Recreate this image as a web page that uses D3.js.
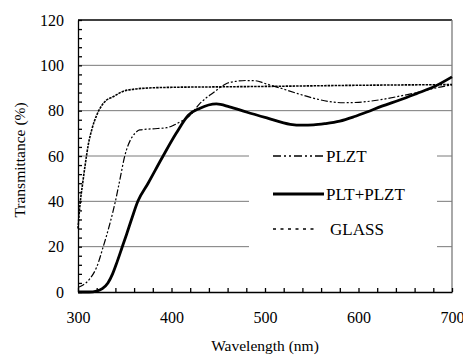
<!DOCTYPE html>
<html>
<head>
<meta charset="utf-8">
<script src="https://cdn.jsdelivr.net/npm/d3@7"></script>
<style>
  body { margin: 0; background: #fff; }
  text { font-family: "Liberation Serif", "Times New Roman", serif; }
</style>
</head>
<body>
<div id="chart"></div>
<script>
// transmittance spectra, values

// GLASS (dotted)
let glassNm = [300, 302, 305, 308, 311, 315, 320, 325, 330, 337, 348, 360, 375, 400, 450, 500, 600, 700]
let glassT = [28, 38, 48, 57, 65, 72, 78, 82, 84.5, 86, 88.5, 89.5, 90, 90.3, 90.5, 90.7, 91.2, 91.5]

// PLZT (dash-dot)
let plztNm = [300, 305, 313, 320, 327, 334, 340, 345, 350, 356, 361, 366, 380, 395, 402, 409, 420, 430, 445, 459,
    470, 480, 490, 500, 516, 535, 551, 569, 584, 600, 626, 645, 663, 680, 700]
let plztT = [2, 3, 6, 11, 20, 30, 40, 50, 60, 67, 70, 71.5, 72, 72.5, 73.5, 75, 78, 83, 88, 92,
    93, 93.3, 93.2, 92, 90, 87.5, 85.6, 84, 83.5, 83.7, 85, 86.5, 88, 89.8, 91.4]

// PLT+PLZT (thick solid)
let pltNm = [300, 312, 320, 326, 332, 337, 342, 347, 352, 358, 364, 375, 391, 405, 418, 430, 448, 462, 480, 502,
    527, 540, 552, 565, 580, 595, 609, 625, 644, 662, 680, 700]
let pltT = [0, 0, 0.4, 1.5, 4, 8, 13.5, 19.5, 25.5, 33, 40, 48, 60, 70, 78, 81, 83, 81.7, 79.4, 76.8,
    74, 73.6, 73.7, 74.3, 75.4, 77.3, 79.4, 82, 84.7, 87.5, 90.4, 94.9]

let xTicks = [300, 400, 500, 600, 700]
let yTicks = [0, 20, 40, 60, 80, 100, 120]
let legendNames = ["PLZT", "PLT+PLZT", "GLASS"]

let width = 463, height = 356
let plotLeft = 78, plotRight = 452, plotTop = 20, plotBottom = 292

let svg = d3.select("#chart")
    .append("svg")
    .attr("width", width)
    .attr("height", height)

let xScale = d3.scaleLinear().domain([300, 700]).range([plotLeft, plotRight])
let yScale = d3.scaleLinear().domain([0, 120]).range([plotBottom, plotTop])

// grid lines
svg.append("g")
    .selectAll("line")
    .data(yTicks.filter(d => d > 0 && d < 120)).enter()
    .append("line")
    .attr("x1", plotLeft).attr("x2", plotRight)
    .attr("y1", d => yScale(d)).attr("y2", d => yScale(d))
    .attr("stroke", "#7a7a7a")
    .attr("stroke-width", 1)

// top and right frame
svg.append("line")
    .attr("x1", plotLeft).attr("x2", plotRight)
    .attr("y1", plotTop).attr("y2", plotTop)
    .attr("stroke", "#000").attr("stroke-width", 1.3)
svg.append("line")
    .attr("x1", plotRight).attr("x2", plotRight)
    .attr("y1", plotTop).attr("y2", plotBottom)
    .attr("stroke", "#7a7a7a").attr("stroke-width", 1.3)

// legend background hides the grid lines behind it
svg.append("rect")
    .attr("x", 249).attr("y", 136)
    .attr("width", 188).attr("height", 116)
    .attr("fill", "#fff")

// axes with inside minor ticks
let xAxis = d3.axisBottom(xScale)
    .tickValues(d3.range(300, 701, 20))
    .tickSizeInner(-4).tickSizeOuter(0)
    .tickPadding(20)
    .tickFormat(d => xTicks.includes(d) ? d : "")

let yAxis = d3.axisLeft(yScale)
    .tickValues(d3.range(0, 121, 4))
    .tickSizeInner(-4).tickSizeOuter(0)
    .tickPadding(14)
    .tickFormat(d => yTicks.includes(d) ? d : "")

svg.append("g")
    .attr("transform", `translate(0,${plotBottom})`)
    .call(xAxis)
    .call(g => g.selectAll("text").style("font-size", "16px").attr("fill", "#000"))
    .call(g => g.selectAll("path,line").attr("stroke", "#000").attr("stroke-width", 1.3))

svg.append("g")
    .attr("transform", `translate(${plotLeft},0)`)
    .call(yAxis)
    .call(g => g.selectAll("text").style("font-size", "16px").attr("fill", "#000"))
    .call(g => g.selectAll("path,line").attr("stroke", "#000").attr("stroke-width", 1.3))

// axis titles
svg.append("text")
    .attr("x", 265).attr("y", 351)
    .attr("text-anchor", "middle")
    .style("font-size", "15.5px")
    .text("Wavelength (nm)")

svg.append("text")
    .attr("transform", "translate(25,160) rotate(-90)")
    .attr("text-anchor", "middle")
    .style("font-size", "15.5px")
    .text("Transmittance (%)")

// curves
let line = d3.line()
    .x(d => xScale(d[0]))
    .y(d => yScale(d[1]))
    .curve(d3.curveMonotoneX)

let styles = [
    { dash: "7,2,2,2,2,2", w: 1.2 },
    { dash: null, w: 2.8 },
    { dash: "2.5,1", w: 1.6 }
]

let series = [
    d3.zip(plztNm, plztT),
    d3.zip(pltNm, pltT),
    d3.zip(glassNm, glassT)
]

series.forEach((s, i) => {
    svg.append("path")
        .datum(s)
        .attr("d", line)
        .attr("fill", "none")
        .attr("stroke", "#000")
        .attr("stroke-width", styles[i].w)
        .attr("stroke-dasharray", styles[i].dash)
})

// legend
let legendY = [156, 194, 229]
let legendDash = ["8,3,2,3,2,3", null, "3,4.5"]
let legendW = [1.5, 2.8, 1.5]

legendNames.forEach((name, i) => {
    svg.append("line")
        .attr("x1", 273).attr("x2", i == 2 ? 318 : 324)
        .attr("y1", legendY[i]).attr("y2", legendY[i])
        .attr("stroke", "#000")
        .attr("stroke-width", legendW[i])
        .attr("stroke-dasharray", legendDash[i])
    svg.append("text")
        .attr("x", i == 2 ? 330 : 326)
        .attr("y", legendY[i] + 6)
        .style("font-size", "17px")
        .text(name)
})
</script>
</body>
</html>
